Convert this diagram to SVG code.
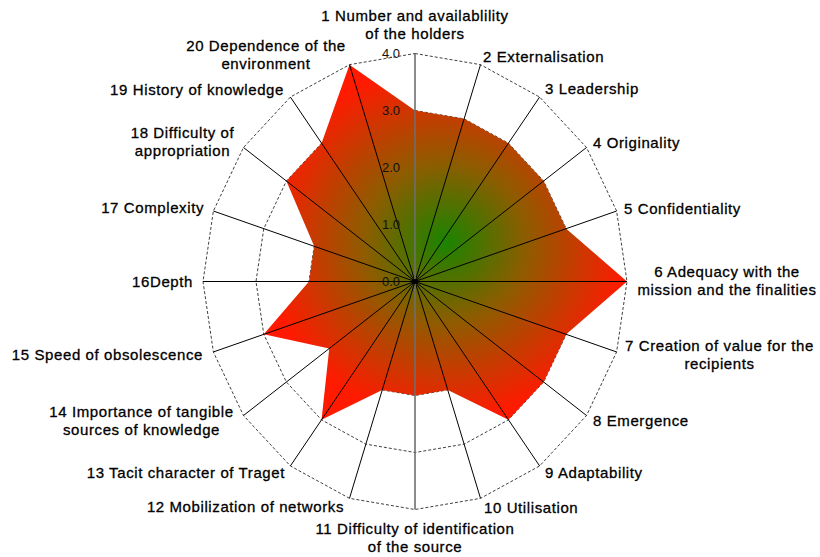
<svg xmlns="http://www.w3.org/2000/svg" width="820" height="557" viewBox="0 0 820 557">
<style>
.ring{fill:none;stroke:#404040;stroke-width:1;stroke-dasharray:3 2}
.spoke{stroke:#000;stroke-width:1}
.vaxis{stroke:#6e6e6e;stroke-width:1.6}
.lbl{font-family:"Liberation Sans",Arial,sans-serif;font-size:15px;letter-spacing:0.6px;fill:#000;stroke:#000;stroke-width:0.3px}
.tick{font-family:"Liberation Sans",Arial,sans-serif;font-size:13px;fill:#111;text-anchor:end}
.m{text-anchor:middle}.e{text-anchor:end}
</style>
<defs>
<radialGradient id="g" cx="0.5" cy="0.5" r="0.5">
<stop offset="0" stop-color="#1a8400"/>
<stop offset="0.45" stop-color="#8e5c00"/>
<stop offset="1" stop-color="#ff1a00"/>
</radialGradient>
</defs>
<rect width="820" height="557" fill="#fff"/>
<g id="grid">
<polygon class="ring" points="415,224.5 431.38,227.29 446.15,235.39 457.88,248 465.41,263.89 468,281.5 465.41,299.11 457.88,315 446.15,327.61 431.38,335.71 415,338.5 398.62,335.71 383.85,327.61 372.12,315 364.59,299.11 362,281.5 364.59,263.89 372.12,248 383.85,235.39 398.62,227.29"/>
<polygon class="ring" points="415,167.5 447.76,173.08 477.31,189.27 500.76,214.49 515.81,246.27 521,281.5 515.81,316.73 500.76,348.51 477.31,373.73 447.76,389.92 415,395.5 382.24,389.92 352.69,373.73 329.24,348.51 314.19,316.73 309,281.5 314.19,246.27 329.24,214.49 352.69,189.27 382.24,173.08"/>
<polygon class="ring" points="415,110.5 464.13,118.87 508.46,143.16 543.63,180.99 566.22,228.66 574,281.5 566.22,334.34 543.63,382.01 508.46,419.84 464.13,444.13 415,452.5 365.87,444.13 321.54,419.84 286.37,382.01 263.78,334.34 256,281.5 263.78,228.66 286.37,180.99 321.54,143.16 365.87,118.87"/>
<polygon class="ring" points="415,53.5 480.51,64.66 539.61,97.04 586.51,147.49 616.62,211.04 627,281.5 616.62,351.96 586.51,415.51 539.61,465.96 480.51,498.34 415,509.5 349.49,498.34 290.39,465.96 243.49,415.51 213.38,351.96 203,281.5 213.38,211.04 243.49,147.49 290.39,97.04 349.49,64.66"/>
</g>
<g id="series">
<polygon fill="url(#g)" points="415,110.5 464.13,118.87 508.46,143.16 543.63,180.99 566.22,228.66 627,281.5 566.22,334.34 543.63,382.01 508.46,419.84 447.76,389.92 415,395.5 382.24,389.92 321.54,419.84 329.24,348.51 263.78,334.34 309,281.5 314.19,246.27 286.37,180.99 321.54,143.16 349.49,64.66"/>
</g>
<g id="connectors">
<line class="spoke" x1="415" y1="281.5" x2="480.51" y2="64.66"/>
<line class="spoke" x1="415" y1="281.5" x2="539.61" y2="97.04"/>
<line class="spoke" x1="415" y1="281.5" x2="586.51" y2="147.49"/>
<line class="spoke" x1="415" y1="281.5" x2="616.62" y2="211.04"/>
<line class="spoke" x1="415" y1="281.5" x2="627" y2="281.5"/>
<line class="spoke" x1="415" y1="281.5" x2="616.62" y2="351.96"/>
<line class="spoke" x1="415" y1="281.5" x2="586.51" y2="415.51"/>
<line class="spoke" x1="415" y1="281.5" x2="539.61" y2="465.96"/>
<line class="spoke" x1="415" y1="281.5" x2="480.51" y2="498.34"/>
<line class="vaxis" x1="415" y1="281.5" x2="415" y2="509.5"/>
<line class="spoke" x1="415" y1="281.5" x2="349.49" y2="498.34"/>
<line class="spoke" x1="415" y1="281.5" x2="290.39" y2="465.96"/>
<line class="spoke" x1="415" y1="281.5" x2="243.49" y2="415.51"/>
<line class="spoke" x1="415" y1="281.5" x2="213.38" y2="351.96"/>
<line class="spoke" x1="415" y1="281.5" x2="203" y2="281.5"/>
<line class="spoke" x1="415" y1="281.5" x2="213.38" y2="211.04"/>
<line class="spoke" x1="415" y1="281.5" x2="243.49" y2="147.49"/>
<line class="spoke" x1="415" y1="281.5" x2="290.39" y2="97.04"/>
<line class="spoke" x1="415" y1="281.5" x2="349.49" y2="64.66"/>
<line class="vaxis" x1="415" y1="281.5" x2="415" y2="53.5"/>
<circle cx="415" cy="281.5" r="2.5" fill="#000"/>
</g>
<g id="ticks">
<text class="tick" x="400" y="58">4.0</text>
<text class="tick" x="400" y="115">3.0</text>
<text class="tick" x="400" y="172">2.0</text>
<text class="tick" x="400" y="229">1.0</text>
<text class="tick" x="400" y="286">0.0</text>
</g>
<g id="n1"><text class="lbl m" x="415" y="21">1 Number and availablility</text><text class="lbl m" x="415" y="39">of the holders</text></g>
<g id="n2"><text class="lbl" x="483" y="62">2 Externalisation</text></g>
<g id="n3"><text class="lbl" x="545" y="94">3 Leadership</text></g>
<g id="n4"><text class="lbl" x="593" y="148">4 Originality</text></g>
<g id="n5"><text class="lbl" x="624" y="214">5 Confidentiality</text></g>
<g id="n6"><text class="lbl m" x="727" y="277">6 Adequacy with the</text><text class="lbl m" x="727" y="295">mission and the finalities</text></g>
<g id="n7"><text class="lbl m" x="719.5" y="351">7 Creation of value for the</text><text class="lbl m" x="719.5" y="369">recipients</text></g>
<g id="n8"><text class="lbl" x="593" y="426">8 Emergence</text></g>
<g id="n9"><text class="lbl" x="545" y="478">9 Adaptability</text></g>
<g id="n10"><text class="lbl" x="484" y="513">10 Utilisation</text></g>
<g id="n11"><text class="lbl m" x="415" y="534">11 Difficulty of identification</text><text class="lbl m" x="415" y="552">of the source</text></g>
<g id="n12"><text class="lbl e" x="344" y="512">12 Mobilization of networks</text></g>
<g id="n13"><text class="lbl e" x="285" y="478">13 Tacit character of Traget</text></g>
<g id="n14"><text class="lbl m" x="141.5" y="417">14 Importance of tangible</text><text class="lbl m" x="141.5" y="435">sources of knowledge</text></g>
<g id="n15"><text class="lbl e" x="203" y="360">15 Speed of obsolescence</text></g>
<g id="n16"><text class="lbl e" x="193" y="287">16Depth</text></g>
<g id="n17"><text class="lbl e" x="204" y="213">17 Complexity</text></g>
<g id="n18"><text class="lbl m" x="182.5" y="138">18 Difficulty of</text><text class="lbl m" x="182.5" y="156">appropriation</text></g>
<g id="n19"><text class="lbl e" x="284" y="95">19 History of knowledge</text></g>
<g id="n20"><text class="lbl m" x="266" y="51">20 Dependence of the</text><text class="lbl m" x="266" y="69">environment</text></g>
</svg>
